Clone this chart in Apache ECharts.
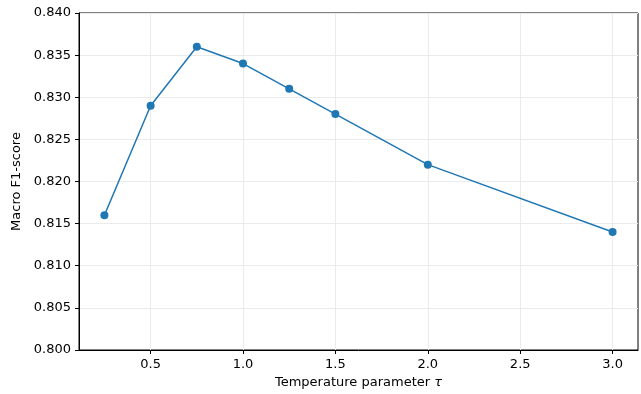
<!DOCTYPE html>
<html><head><meta charset="utf-8">
<script src="https://cdn.jsdelivr.net/npm/echarts@6/dist/echarts.min.js"></script>
<style>html,body{margin:0;padding:0;background:#fff}#c{width:641px;height:394px}</style>
</head><body><div id="c"></div>
<script>
const tau = [0.25, 0.5, 0.75, 1.0, 1.25, 1.5, 2.0, 3.0];
const f1 = [0.816, 0.829, 0.836, 0.834, 0.831, 0.828, 0.822, 0.814];
const xTicks = [0.5, 1.0, 1.5, 2.0, 2.5, 3.0];
const yTicks = [0.800, 0.805, 0.810, 0.815, 0.820, 0.825, 0.830, 0.835, 0.840];

const chart = echarts.init(document.getElementById('c'), null, {renderer: 'canvas'});
const font = 'DejaVu Sans';
chart.setOption({
  animation: false,
  grid: {left: 79, top: 13, right: 3, bottom: 43, show: true, borderColor: '#000', borderWidth: 1, backgroundColor: 'transparent'},
  xAxis: {
    type: 'value', min: 0.1125, max: 3.1375,
    name: '{n|Temperature parameter }{t|τ}', nameLocation: 'middle', nameGap: 26,
    nameTextStyle: {rich: {n: {fontFamily: font, fontSize: 13, color: '#000'}, t: {fontFamily: font, fontSize: 13, fontStyle: 'italic', color: '#000'}}},
    axisLine: {lineStyle: {color: '#000', width: 1}},
    axisTick: {show: true, customValues: xTicks, length: 4, lineStyle: {color: '#000'}},
    axisLabel: {customValues: xTicks, formatter: v => v.toFixed(1), fontFamily: font, fontSize: 13, color: '#000', margin: 8},
    splitLine: {show: true, lineStyle: {color: '#ebebeb', width: 1}}
  },
  yAxis: {
    type: 'value', min: 0.800, max: 0.840, interval: 0.005,
    name: 'Macro F1-score', nameLocation: 'middle', nameGap: 51,
    nameTextStyle: {fontFamily: font, fontSize: 13, color: '#000'},
    axisLine: {show: true, lineStyle: {color: '#000', width: 1}},
    axisTick: {show: true, length: 4, lineStyle: {color: '#000'}},
    axisLabel: {customValues: yTicks, formatter: v => v.toFixed(3), fontFamily: font, fontSize: 13, color: '#000', margin: 8},
    splitLine: {show: true, lineStyle: {color: '#ebebeb', width: 1}}
  },
  series: [{
    type: 'line', data: tau.map((t, i) => [t, f1[i]]),
    symbol: 'circle', symbolSize: 8,
    lineStyle: {color: '#1f77b4', width: 1.5},
    itemStyle: {color: '#1f77b4'}
  }]
});
</script></body></html>
